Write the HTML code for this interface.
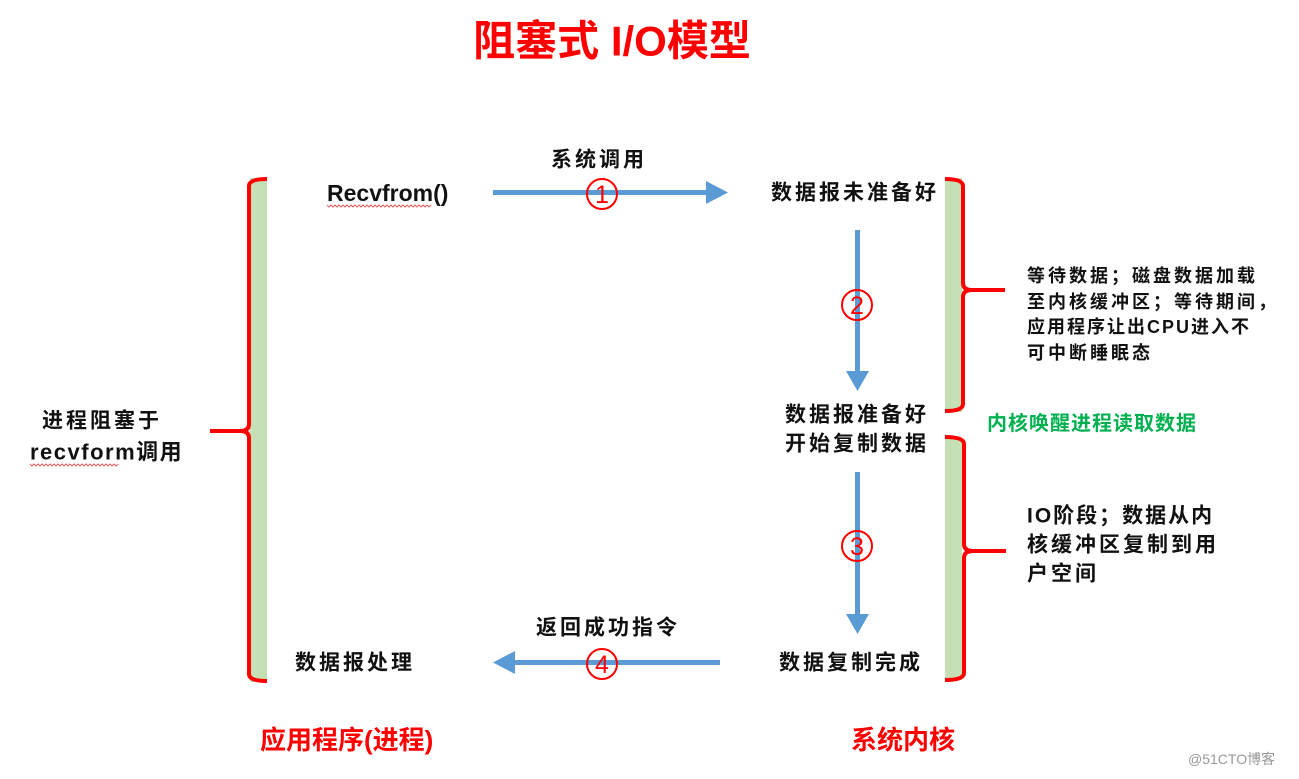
<!DOCTYPE html>
<html><head><meta charset="utf-8"><style>
html,body{margin:0;padding:0;background:#fff;}
svg{display:block;}
text{font-family:"Liberation Sans","Noto Sans CJK SC",sans-serif;dominant-baseline:central;}
</style></head><body>
<svg width="1299" height="779" viewBox="0 0 1299 779" xmlns="http://www.w3.org/2000/svg">
<rect width="1299" height="779" fill="#fff"/>
<text x="612" y="41" font-size="42" font-weight="bold" fill="#ff0000" text-anchor="middle">阻塞式 I/O模型</text>

<rect x="250" y="178" width="17" height="504" fill="#c5e0b4"/>
<rect x="945" y="178" width="17" height="234" fill="#c5e0b4"/>
<rect x="945" y="437" width="17" height="243" fill="#c5e0b4"/>

<g fill="none" stroke="#ff0000" stroke-width="4" stroke-linecap="butt">
<path d="M267 179 Q249 179 249 186 L249 424 Q249 431 240 431 L210 431 M240 431 Q249 431 249 438 L249 674 Q249 681 267 681"/>
<path d="M945 179 Q963 179 963 186 L963 283 Q963 290 972 290 L1005 290 M972 290 Q963 290 963 297 L963 404 Q963 411 945 411"/>
<path d="M945 437 Q964 437 964 444 L964 544 Q964 551 973 551 L1006 551 M973 551 Q964 551 964 558 L964 673 Q964 680 945 680"/>
</g>

<g fill="#5b9bd5">
<rect x="493" y="190" width="216" height="5"/>
<polygon points="706,181 728,192.5 706,204"/>
<rect x="855" y="230" width="5" height="144"/>
<polygon points="846,371 857.5,391 869,371"/>
<rect x="855" y="472" width="5" height="145"/>
<polygon points="846,614 857.5,634 869,614"/>
<rect x="512" y="660" width="208" height="5"/>
<polygon points="515,651 493,662.5 515,674"/>
</g>

<g fill="none" stroke="#ff0000" stroke-width="2">
<circle cx="602" cy="194" r="15"/>
<circle cx="857" cy="305" r="15"/>
<circle cx="857" cy="546" r="15"/>
<circle cx="602" cy="664" r="15"/>
</g>
<g font-size="25" fill="#ff0000" text-anchor="middle">
<text x="602" y="195">1</text>
<text x="857" y="306">2</text>
<text x="857" y="547">3</text>
<text x="602" y="665">4</text>
</g>

<g font-size="21" fill="#111" font-weight="bold">
<text x="327" y="193" font-size="23">Recvfrom()</text>
<text x="551" y="160" letter-spacing="3">系统调用</text>
<text x="771" y="193" letter-spacing="3">数据报未准备好</text>
<text x="785" y="415" letter-spacing="3">数据报准备好</text>
<text x="785" y="444" letter-spacing="3">开始复制数据</text>
<text x="779" y="663" letter-spacing="3">数据复制完成</text>
<text x="536" y="628" letter-spacing="3">返回成功指令</text>
<text x="295" y="663" letter-spacing="3">数据报处理</text>
<text x="42" y="421" letter-spacing="3">进程阻塞于</text>
<text x="30" y="452" font-size="22" letter-spacing="1.5">recvform调用</text>
<text x="1027" y="516" letter-spacing="2">IO阶段；数据从内</text>
<text x="1027" y="545" letter-spacing="3">核缓冲区复制到用</text>
<text x="1027" y="574" letter-spacing="3">户空间</text>
</g>
<g font-size="18" fill="#111" letter-spacing="3" font-weight="bold">
<text x="1027" y="276">等待数据；磁盘数据加载</text>
<text x="1027" y="302">至内核缓冲区；等待期间，</text>
<text x="1027" y="327" letter-spacing="2">应用程序让出CPU进入不</text>
<text x="1027" y="353">可中断睡眠态</text>
</g>
<g fill="none" stroke="#e06060" stroke-width="1">
<path d="M327 205 l2 2 l2 -2 l2 2 l2 -2 l2 2 l2 -2 l2 2 l2 -2 l2 2 l2 -2 l2 2 l2 -2 l2 2 l2 -2 l2 2 l2 -2 l2 2 l2 -2 l2 2 l2 -2 l2 2 l2 -2 l2 2 l2 -2 l2 2 l2 -2 l2 2 l2 -2 l2 2 l2 -2 l2 2 l2 -2 l2 2 l2 -2 l2 2 l2 -2 l2 2 l2 -2 l2 2 l2 -2 l2 2 l2 -2 l2 2 l2 -2 l2 2 l2 -2 l2 2 l2 -2 l2 2 l2 -2 l2 2 l2 -2"/>
<path d="M30 464 l2 2 l2 -2 l2 2 l2 -2 l2 2 l2 -2 l2 2 l2 -2 l2 2 l2 -2 l2 2 l2 -2 l2 2 l2 -2 l2 2 l2 -2 l2 2 l2 -2 l2 2 l2 -2 l2 2 l2 -2 l2 2 l2 -2 l2 2 l2 -2 l2 2 l2 -2 l2 2 l2 -2 l2 2 l2 -2 l2 2 l2 -2 l2 2 l2 -2 l2 2 l2 -2 l2 2 l2 -2 l2 2 l2 -2 l2 2 l2 -2"/>
</g>

<text x="987" y="424" font-size="20" font-weight="bold" fill="#00b050" letter-spacing="1">内核唤醒进程读取数据</text>
<text x="260" y="740" font-size="26" font-weight="bold" fill="#ff0000">应用程序(进程)</text>
<text x="851" y="740" font-size="26" font-weight="bold" fill="#ff0000">系统内核</text>
<text x="1188" y="759" font-size="14" fill="#999">@51CTO博客</text>
</svg>
</body></html>
